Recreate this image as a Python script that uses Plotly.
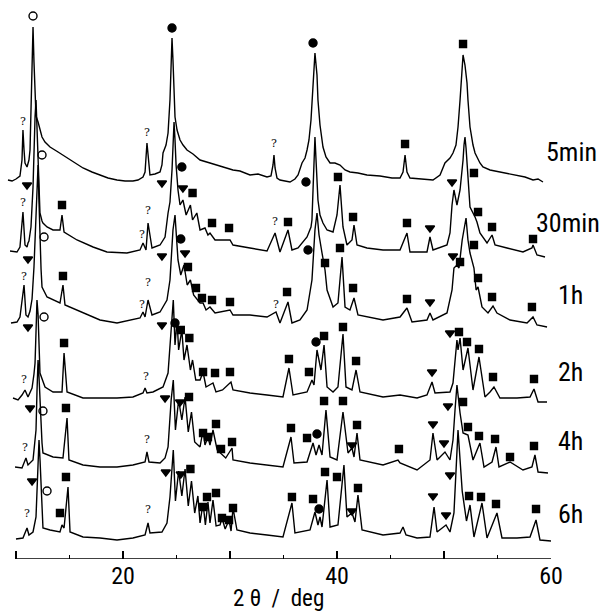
import plotly.graph_objects as go

labels = ["5min", "30min", "1h", "2h", "4h", "6h"]

# ---- diffraction patterns: 2theta (deg) and intensity (arb. units, above each trace's own baseline)
tt_5min = [9.25, 9.63, 10.0, 10.37, 10.56, 10.65, 10.75, 10.84, 11.03, 11.21, 11.31, 11.40, 11.50, 11.59, 11.68,
           11.78, 11.87, 12.06, 12.15, 12.24, 12.43, 12.71, 13.18, 13.93, 14.77, 15.51, 16.26, 17.10, 17.85, 18.60,
           19.44, 20.19, 20.93, 21.40, 21.87, 22.06, 22.24, 22.43, 22.52, 22.99, 23.46, 23.64, 23.74, 24.02, 24.21,
           24.39, 24.49, 24.58, 24.67, 24.77, 24.86, 25.05, 25.33, 25.61, 25.98, 26.54, 27.20, 28.13, 29.07, 30.28,
           30.93, 31.87, 32.62, 33.46, 33.83, 34.02, 34.11, 34.21, 34.39, 34.67, 35.14, 35.61, 36.07, 36.36, 36.73,
           37.01, 37.20, 37.38, 37.57, 37.76, 37.94, 38.13, 38.22, 38.41, 38.69, 38.97, 39.35, 39.81, 40.28, 40.75,
           41.21, 41.96, 42.80, 44.02, 45.14, 45.89, 46.17, 46.36, 46.54, 46.82, 47.76, 48.97, 49.63, 49.91, 50.09,
           50.56, 50.84, 51.12, 51.31, 51.50, 51.68, 51.78, 51.96, 52.15, 52.24, 52.43, 52.71, 52.90, 53.36, 53.64,
           54.30, 55.23, 56.17, 56.82, 57.57, 58.32, 58.79, 59.25]
i_5min = [2, 1, 3, 6, 22, 52, 32, 19, 15, 22, 32, 72, 117, 155, 120,
          82, 66, 60, 56, 51, 45, 40, 35, 30, 24, 19, 14, 10, 7, 4,
          2, 1, 1, 2, 5, 10, 39, 12, 7, 8, 10, 17, 29, 37, 49,
          82, 112, 144, 122, 82, 65, 52, 42, 37, 32, 28, 22, 19, 16, 12,
          11, 7, 8, 5, 6, 17, 27, 14, 4, 2, 1, 0, 3, 7, 19,
          24, 32, 42, 62, 97, 129, 107, 82, 57, 35, 25, 19, 19, 17, 12,
          10, 9, 7, 6, 4, 4, 10, 27, 10, 4, 3, 2, 7, 14, 19,
          24, 29, 37, 55, 82, 112, 127, 117, 99, 82, 55, 37, 29, 19, 15,
          12, 10, 8, 7, 5, 2, 3, 0]

tt_30min = [9.44, 10.09, 10.37, 10.65, 10.84, 11.03, 11.12, 11.21, 11.40, 11.59, 11.78, 11.87, 11.96, 12.06, 12.15,
            12.24, 12.43, 12.52, 12.90, 13.46, 14.11, 14.30, 14.49, 15.70, 17.20, 18.50, 20.37, 21.59, 21.87, 22.15,
            22.34, 22.71, 23.46, 23.93, 24.21, 24.39, 24.58, 24.67, 24.77, 24.86, 24.96, 25.14, 25.33, 25.6, 25.9,
            26.3, 26.5, 26.9, 27.2, 27.66, 27.94, 28.13, 28.6, 30.0, 30.28, 31.87, 33.46, 34.21, 34.67, 35.42,
            35.79, 36.36, 37.20, 37.57, 37.66, 37.76, 37.85, 37.94, 38.04, 38.22, 38.41, 38.69, 39.07, 39.63, 40.0,
            40.28, 40.56, 40.93, 41.40, 41.59, 41.87, 42.80, 44.30, 45.89, 46.54, 46.82, 48.41, 48.69, 48.97, 50.28,
            50.56, 50.75, 50.93, 51.21, 51.5, 51.68, 51.78, 51.87, 51.96, 52.06, 52.24, 52.43, 52.90, 53.08, 53.36,
            54.02, 54.49, 54.77, 55.89, 57.38, 58.22, 58.32, 58.69, 59.44]
i_30min = [6, 5, 10, 45, 12, 10, 14, 16, 30, 70, 140, 157, 130, 95, 62,
           44, 36, 34, 30, 27, 27, 42, 25, 17, 10, 5, 4, 7, 14, 7,
           34, 9, 12, 20, 44, 55, 87, 117, 135, 117, 92, 67, 52, 57, 42,
           52, 37, 44, 27, 29, 22, 24, 17, 17, 12, 9, 6, 24, 5, 27,
           7, 9, 20, 30, 37, 67, 97, 120, 97, 57, 42, 34, 27, 25, 42,
           72, 30, 12, 17, 32, 12, 9, 7, 7, 24, 5, 5, 20, 7, 12,
           24, 52, 67, 52, 67, 85, 97, 112, 120, 109, 77, 50, 40, 35, 24,
           14, 22, 12, 9, 5, 9, 12, 2, 0]

tt_1h = [9.53, 10.09, 10.37, 10.75, 10.93, 11.12, 11.31, 11.5, 11.68, 11.87, 11.96, 12.06, 12.15, 12.24, 12.34,
         12.43, 12.90, 14.11, 14.39, 14.58, 16.26, 17.85, 19.44, 21.59, 21.87, 22.06, 22.34, 22.71, 23.46, 24.11,
         24.39, 24.67, 24.86, 25.14, 25.4, 25.7, 26.0, 26.3, 26.6, 27.20, 27.48, 27.76, 28.13, 28.6, 30.0,
         30.28, 31.87, 33.46, 34.30, 34.67, 35.42, 35.79, 36.54, 37.20, 37.66, 37.94, 38.13, 38.32, 38.60, 38.88,
         39.07, 39.63, 40.09, 40.47, 40.75, 41.21, 41.59, 41.96, 44.30, 45.89, 46.54, 47.01, 48.41, 48.69, 48.97,
         50.28, 50.75, 50.93, 51.21, 51.40, 51.7, 52.06, 52.24, 52.43, 52.8, 53.0, 53.18, 53.55, 54.11, 54.58,
         54.95, 56.17, 57.76, 58.32, 58.69, 59.63]
i_1h = [4, 5, 10, 42, 12, 10, 16, 28, 60, 120, 150, 162, 125, 87, 58,
        40, 30, 24, 42, 22, 14, 7, 4, 9, 15, 10, 27, 12, 15, 27,
        47, 97, 112, 67, 52, 62, 42, 47, 32, 24, 24, 17, 20, 14, 17,
        12, 12, 10, 15, 4, 25, 4, 7, 17, 47, 97, 114, 92, 74, 57,
        37, 20, 24, 70, 20, 17, 29, 12, 7, 10, 19, 5, 7, 14, 7,
        14, 37, 59, 62, 59, 87, 109, 87, 74, 59, 37, 40, 20, 14, 21,
        14, 7, 4, 10, 2, 0]

tt_2h = [9.72, 10.19, 10.56, 10.84, 11.12, 11.50, 11.68, 11.78, 11.87, 11.96, 12.06, 12.15, 12.24, 12.71, 13.46,
         14.30, 14.49, 14.77, 16.26, 17.85, 19.44, 20.93, 21.87, 22.06, 22.24, 22.80, 23.74, 24.21, 24.5, 24.7,
         24.86, 25.05, 25.2, 25.5, 25.7, 25.98, 26.3, 26.5, 26.8, 27.2, 27.48, 27.76, 28.41, 28.69, 29.3,
         30.09, 30.28, 31.87, 33.46, 34.95, 35.51, 35.89, 37.20, 37.66, 37.85, 38.13, 38.50, 38.79, 39.07, 39.63,
         40.09, 40.56, 40.84, 41.40, 41.78, 42.15, 44.30, 45.89, 47.48, 48.41, 48.88, 49.16, 50.56, 50.84, 51.21,
         51.31, 51.50, 51.78, 52.24, 52.71, 53.27, 53.83, 54.30, 54.67, 55.23, 56.82, 58.04, 58.41, 58.79, 59.63]
i_2h = [4, 2, 7, 12, 5, 14, 28, 39, 70, 102, 88, 62, 29, 15, 10,
        10, 49, 10, 4, 4, 4, 5, 9, 14, 9, 10, 15, 29, 72, 102,
        57, 82, 52, 72, 42, 57, 32, 42, 22, 22, 30, 15, 19, 10, 12,
        20, 12, 9, 7, 5, 34, 7, 10, 22, 17, 52, 32, 57, 15, 10,
        15, 68, 15, 12, 32, 10, 5, 7, 4, 7, 20, 9, 10, 19, 62,
        52, 64, 32, 54, 12, 45, 5, 10, 15, 4, 4, 5, 13, 0, 0]

tt_4h = [9.91, 10.56, 10.93, 11.12, 11.59, 11.87, 11.96, 12.06, 12.15, 12.24, 12.43, 12.52, 13.46, 14.39, 14.77,
         14.95, 16.26, 17.85, 19.44, 20.93, 22.06, 22.24, 22.43, 23.46, 23.93, 24.21, 24.5, 24.7, 24.9, 25.2,
         25.5, 25.8, 26.1, 26.4, 26.7, 27.2, 27.48, 27.66, 27.94, 28.13, 28.41, 28.8, 29.07, 29.6, 30.19,
         30.28, 31.87, 33.46, 34.95, 35.70, 35.98, 37.20, 37.76, 38.04, 38.32, 38.6, 38.97, 39.35, 40.00, 40.56,
         41.03, 41.40, 41.59, 41.87, 42.15, 44.30, 45.70, 45.89, 47.48, 48.69, 48.97, 49.35, 50.09, 50.56, 50.84,
         51.03, 51.21, 51.50, 51.78, 52.24, 52.71, 53.36, 53.74, 54.49, 54.86, 55.14, 56.17, 57.38, 58.22, 58.50,
         58.79, 59.72]
i_4h = [5, 4, 14, 7, 12, 42, 80, 112, 95, 72, 29, 19, 15, 14, 54,
        12, 7, 5, 5, 7, 10, 20, 10, 9, 14, 25, 72, 92, 42, 72,
        52, 75, 40, 60, 30, 25, 42, 27, 35, 27, 42, 22, 19, 14, 24,
        12, 9, 7, 5, 35, 9, 10, 29, 17, 27, 17, 62, 15, 12, 60,
        19, 24, 15, 39, 12, 7, 12, 9, 2, 12, 39, 12, 20, 12, 32,
        62, 87, 59, 39, 37, 12, 29, 5, 10, 25, 5, 10, 2, 5, 17,
        0, -1]

tt_6h = [10.0, 10.65, 11.03, 11.21, 11.59, 11.87, 12.0, 12.15, 12.25, 12.34, 12.43, 12.52, 13.18, 14.11, 14.30,
         14.49, 14.86, 15.05, 16.26, 17.85, 19.44, 20.93, 22.06, 22.34, 22.52, 23.64, 24.11, 24.39, 24.7, 24.9,
         25.2, 25.5, 25.8, 26.1, 26.4, 26.7, 27.0, 27.20, 27.48, 27.7, 27.94, 28.13, 28.41, 28.7, 29.07,
         29.25, 29.55, 29.91, 30.1, 30.28, 30.65, 31.87, 33.46, 34.95, 35.79, 36.07, 37.48, 37.94, 38.22, 38.41,
         38.6, 39.07, 39.35, 40.09, 40.65, 40.93, 41.40, 41.68, 41.96, 42.34, 44.30, 45.89, 46.17, 46.45, 47.48,
         48.69, 49.07, 49.35, 50.19, 50.56, 50.93, 51.31, 51.7, 52.1, 52.43, 52.80, 53.55, 54.02, 54.95, 55.42,
         56.82, 58.04, 58.60, 58.97, 60.0]
i_6h = [2, 3, 13, 6, 9, 24, 60, 101, 80, 51, 28, 13, 11, 9, 16,
        13, 54, 9, 4, 3, 1, 3, 6, 18, 8, 9, 18, 44, 91, 40,
        70, 45, 72, 35, 60, 28, 45, 18, 38, 16, 39, 18, 41, 15, 16,
        23, 12, 21, 10, 33, 11, 8, 6, 4, 38, 8, 11, 29, 16, 24,
        14, 61, 14, 16, 76, 24, 28, 19, 46, 11, 6, 8, 14, 6, 3,
        4, 34, 9, 16, 9, 28, 111, 50, 20, 36, 4, 38, 3, 28, 3,
        3, 4, 21, 1, 0]

# ---- phase marks: symbol code, 2theta (deg), height above trace baseline
mk_5min_sym = ["?", "o", "?", "c", "?", "c", "s", "s"]
mk_5min_tt = [10.65, 11.59, 22.24, 24.58, 34.11, 37.76, 46.36, 51.78]
mk_5min_h = [60, 166, 49, 154, 38, 139, 38, 138]

mk_30min_sym = ["?", "v", "o", "s", "?", "?", "v", "c", "v", "s", "s", "s", "?", "s", "c", "s", "s", "s", "v", "v",
                "s", "s", "s", "s"]
mk_30min_tt = [10.65, 11.03, 12.43, 14.30, 21.78, 22.34, 23.64, 25.5, 25.6, 26.5, 28.32, 29.91, 34.21, 35.42, 37.1,
               40.09, 41.50, 46.54, 48.69, 50.75, 52.80, 53.18, 54.49, 58.32]
mk_30min_h = [54, 72, 102, 52, 22, 46, 74, 90, 69, 64, 34, 29, 35, 35, 75, 80, 40, 34, 29, 75, 84, 45, 30, 18]

mk_1h_sym = ["?", "v", "o", "s", "?", "?", "v", "c", "v", "s", "s", "s", "s", "s", "?", "s", "c", "s", "s", "s",
             "s", "v", "v", "s", "s", "s", "s", "s"]
mk_1h_tt = [10.75, 11.12, 12.62, 14.39, 21.78, 22.34, 23.64, 25.4, 25.8, 26.07, 26.82, 27.38, 28.32, 30.0, 34.30,
            35.33, 37.29, 38.88, 40.28, 41.50, 46.54, 48.69, 50.84, 51.5, 52.80, 53.18, 54.49, 58.22]
mk_1h_h = [50, 68, 90, 51, 22, 44, 71, 88, 74, 60, 39, 29, 27, 25, 22, 35, 77, 64, 79, 39, 28, 25, 71, 65, 82, 49,
           30, 20]

mk_2h_sym = ["?", "v", "o", "s", "?", "v", "c", "s", "s", "s", "s", "s", "s", "s", "c", "s", "s", "s", "v", "v",
             "s", "s", "s", "s", "s"]
mk_2h_tt = [10.75, 11.12, 12.62, 14.49, 22.15, 23.64, 24.86, 25.4, 26.2, 27.48, 28.60, 30.0, 35.51, 37.38, 38.04,
            38.79, 40.56, 41.78, 48.88, 50.56, 51.40, 52.15, 53.27, 54.58, 58.41]
mk_2h_h = [22, 75, 85, 59, 25, 77, 79, 72, 64, 30, 29, 30, 43, 30, 60, 66, 75, 41, 30, 69, 70, 60, 53, 25, 23]

mk_4h_sym = ["?", "v", "o", "s", "?", "v", "v", "s", "s", "s", "s", "s", "s", "s", "s", "c", "s", "s", "v", "s",
             "s", "v", "v", "v", "s", "s", "s", "s", "s", "s"]
mk_4h_tt = [10.84, 11.31, 12.52, 14.67, 22.24, 23.93, 25.33, 26.17, 27.48, 27.94, 28.69, 29.16, 30.19, 35.70, 37.20,
            38.13, 38.79, 40.56, 41.40, 41.87, 45.79, 48.97, 50.0, 50.37, 51.78, 52.24, 53.27, 54.77, 56.17, 58.41]
mk_4h_h = [24, 64, 61, 64, 32, 74, 70, 75, 39, 35, 48, 23, 30, 44, 34, 38, 71, 71, 27, 47, 23, 48, 29, 66, 70, 45,
           36, 33, 15, 26]

mk_6h_sym = ["?", "v", "o", "s", "s", "?", "v", "v", "s", "s", "s", "s", "s", "s", "s", "s", "c", "s", "s", "v",
             "s", "s", "v", "v", "v", "s", "s", "s", "s"]
mk_6h_tt = [11.03, 11.5, 12.90, 14.11, 14.67, 22.34, 24.0, 25.4, 26.3, 27.48, 27.85, 28.69, 29.25, 29.91, 30.28,
            35.79, 38.32, 37.76, 38.88, 41.4, 40.0, 41.96, 48.97, 50.19, 50.56, 52.34, 53.46, 54.86, 58.60]
mk_6h_h = [27, 60, 50, 28, 64, 31, 69, 67, 72, 34, 44, 48, 23, 21, 33, 44, 32, 42, 69, 30, 64, 53, 45, 26, 66, 45,
           44, 37, 32]

series = [
    (tt_5min, i_5min, mk_5min_sym, mk_5min_tt, mk_5min_h),
    (tt_30min, i_30min, mk_30min_sym, mk_30min_tt, mk_30min_h),
    (tt_1h, i_1h, mk_1h_sym, mk_1h_tt, mk_1h_h),
    (tt_2h, i_2h, mk_2h_sym, mk_2h_tt, mk_2h_h),
    (tt_4h, i_4h, mk_4h_sym, mk_4h_tt, mk_4h_h),
    (tt_6h, i_6h, mk_6h_sym, mk_6h_tt, mk_6h_h),
]

# ---- layout / style (not data)
offsets = [377, 302, 232, 157, 87, 18]
label_px = [1.0367, 1.031, 1.035, 1.035, 1.035, 1.035]
label_dy = [30, 34, 32, 30, 31, 27]
sym_map = {"o": "circle-open", "c": "circle", "s": "square", "v": "triangle-down"}
sym_size = {"o": 8, "c": 8, "s": 7, "v": 8}
FONT = "Liberation Sans Narrow, Roboto Condensed, Liberation Sans, Arial, sans-serif"

fig = go.Figure()
for (tt, inten, msym, mtt, mh), off in zip(series, offsets):
    fig.add_trace(go.Scatter(x=tt, y=[v + off for v in inten], mode="lines",
                             line=dict(color="black", width=1.4), hoverinfo="skip", showlegend=False))
    for code in ["o", "c", "s", "v"]:
        xs = [t for s, t in zip(msym, mtt) if s == code]
        ys = [h + off for s, h in zip(msym, mh) if s == code]
        if xs:
            fig.add_trace(go.Scatter(x=xs, y=ys, mode="markers", showlegend=False, hoverinfo="skip",
                                     marker=dict(symbol=sym_map[code], size=sym_size[code], color="black",
                                                 line=dict(color="black", width=1.4))))
    qx = [t for s, t in zip(msym, mtt) if s == "?"]
    qy = [h + off for s, h in zip(msym, mh) if s == "?"]
    fig.add_trace(go.Scatter(x=qx, y=qy, mode="text", text=["?"] * len(qx), showlegend=False, hoverinfo="skip",
                             textfont=dict(family="DejaVu Serif, serif", size=11, color="black")))

for lab, lx, dy, off in zip(labels, label_px, label_dy, offsets):
    fig.add_annotation(x=lx, xref="paper", y=off + dy, yref="y", text=lab, showarrow=False,
                       xanchor="center", yanchor="middle", font=dict(family=FONT, size=26, color="black"))

fig.add_annotation(x=0.5, xref="paper", y=0, yref="paper", yanchor="top", yshift=-24, text="2 θ  /  deg",
                   showarrow=False, font=dict(family=FONT, size=23, color="black"))

fig.add_shape(type="line", x0=10, x1=60, y0=0, y1=0, xref="x", yref="y", line=dict(color="black", width=1.5))

fig.update_xaxes(range=[9.065, 60], showgrid=False, zeroline=False, showline=False,
                 tickmode="array", tickvals=[10, 20, 30, 40, 50, 60], ticktext=["", "20", "", "40", "", "60"],
                 ticks="inside", ticklen=8, tickwidth=1.5, tickcolor="black",
                 tickfont=dict(family=FONT, size=24, color="black"),
                 minor=dict(tickmode="array", tickvals=[15, 25, 35, 45, 55], ticks="inside", ticklen=4,
                            tickwidth=1.2, tickcolor="black"))
fig.update_yaxes(range=[0, 559], visible=False)
fig.update_layout(width=608, height=611, margin=dict(l=6, r=57, t=0, b=52),
                  plot_bgcolor="white", paper_bgcolor="white")
fig.write_html("out.html", config={"displayModeBar": False},
               post_script="document.body.style.margin='0';document.body.style.overflow='hidden';")
